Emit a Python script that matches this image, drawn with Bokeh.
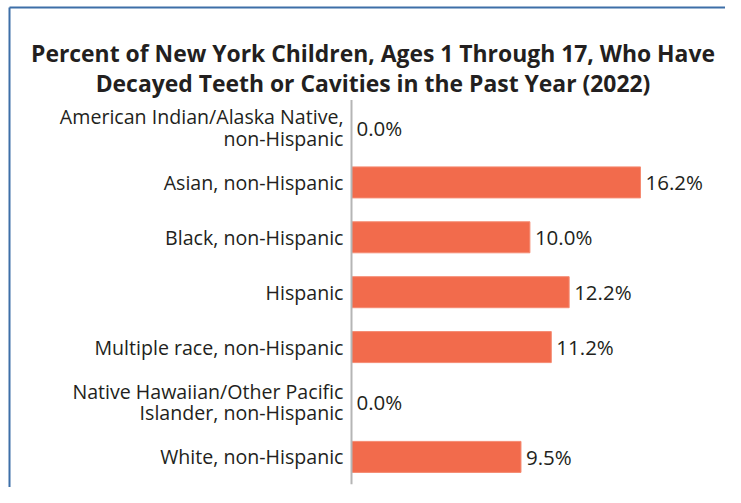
from bokeh.plotting import figure
from bokeh.models import Range1d, ColumnDataSource
from bokeh.core.properties import value
from bokeh.embed import file_html
from bokeh.resources import INLINE

title_lines = ["Percent of New York Children, Ages 1 Through 17, Who Have",
               "Decayed Teeth or Cavities in the Past Year (2022)"]
categories = ["American Indian/Alaska Native,\nnon-Hispanic",
              "Asian, non-Hispanic",
              "Black, non-Hispanic",
              "Hispanic",
              "Multiple race, non-Hispanic",
              "Native Hawaiian/Other Pacific\nIslander, non-Hispanic",
              "White, non-Hispanic"]
percent = [0.0, 16.2, 10.0, 12.2, 11.2, 0.0, 9.5]
value_labels = ["0.0%", "16.2%", "10.0%", "12.2%", "11.2%", "0.0%", "9.5%"]

W, H = 725, 487
XPX = 17.84      # pixels per percent
AX = 351         # canvas px of the zero line
YPX = 54.9       # pixels per row
ROW0 = 127       # canvas px of first row centre

ys = [-i for i in range(len(categories))]
src = ColumnDataSource(dict(y=ys, v=percent, cat=categories, lab=value_labels))

x_range = Range1d(-AX / XPX, (W - AX) / XPX)
y_range = Range1d(-(H - ROW0) / YPX, ROW0 / YPX)

p = figure(width=W, height=H, x_range=x_range, y_range=y_range,
           output_backend="svg", toolbar_location=None,
           x_axis_location=None, y_axis_location=None,
           min_border=0, background_fill_color="white", border_fill_color="white")
p.outline_line_color = None
p.grid.visible = False

FONT = value("Open Sans")
DARK = "#231F20"

# frame border (top and left edges of the boxed panel)
bx = x_range.start + 9.0 / XPX
by = y_range.end - 7.0 / YPX
p.segment(x0=[bx, bx], y0=[y_range.start - 1, by],
          x1=[bx, x_range.end + 1], y1=[by, by],
          line_color="#3D6FA8", line_width=2)

p.hbar(y="y", left=0, right="v", height=0.565, source=src,
       fill_color="#F26B4C", line_color="#F58B72", line_width=1)

# zero line
p.segment(x0=[0], x1=[0], y0=[ys[0] + 0.5], y1=[ys[-1] - 0.5],
          line_color="#B5B5B5", line_width=2)

p.text(x=0, y="y", text="cat", source=src, x_offset=-8,
       text_align="right", text_baseline="middle", text_line_height=0.8,
       text_font=FONT, text_font_size="19.6px", text_color=DARK)
p.text(x="v", y="y", text="lab", source=src, x_offset=5,
       text_align="left", text_baseline="middle",
       text_font=FONT, text_font_size="20.5px", text_color=DARK)

xt = (372.5 - AX) / XPX
for line, off in zip(title_lines, [53, 83]):
    p.text(x=[xt], y=[y_range.end], text=[line], y_offset=off,
           text_align="center", text_baseline="alphabetic",
           text_font=FONT, text_font_style="bold", text_font_size="22.9px",
           text_color=DARK)

open("out.html", "w").write(file_html(p, INLINE))
